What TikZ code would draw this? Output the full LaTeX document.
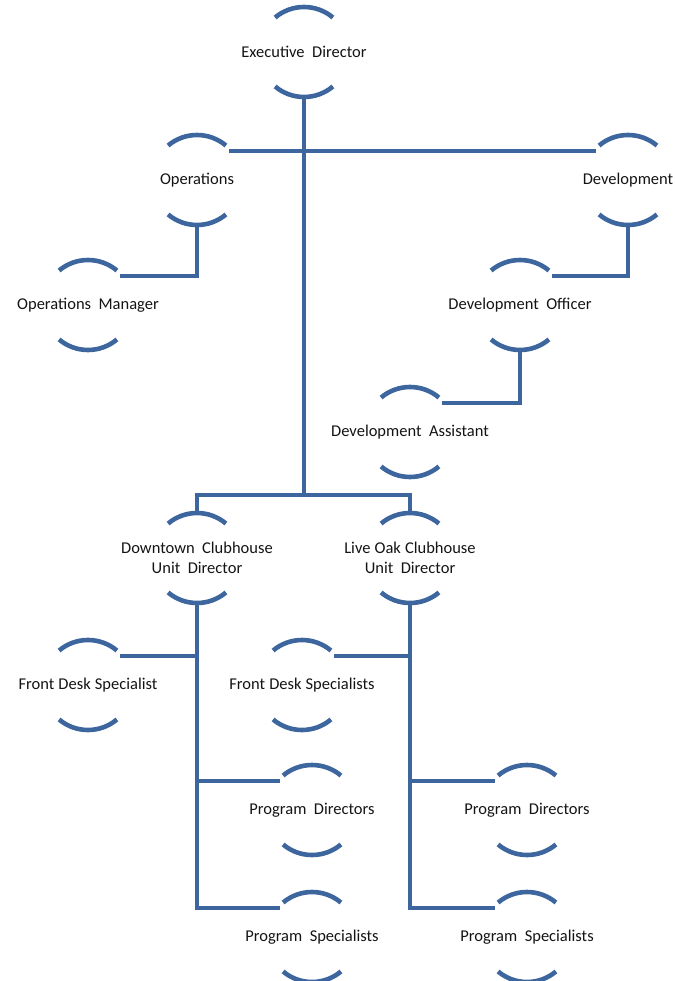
\documentclass[tikz,border=0pt]{standalone}
\usepackage{fontspec}
\setmainfont{Carlito}[WordSpace=2]
\newfontfamily\tightfont{Carlito}[WordSpace=1.1]
\definecolor{orgblue}{RGB}{62,102,158}
\definecolor{txt}{RGB}{20,20,20}
\tikzset{
  x=1pt, y=1pt,
  ring/.style={circle, minimum size=90pt, inner sep=0pt, outer sep=0pt, draw=none},
  lbl/.style={text=txt, font=\fontsize{16.5}{20}\selectfont, align=center, inner sep=0pt},
  arcline/.style={draw=orgblue, line width=4.6pt},
  link/.style={draw=orgblue, line width=4.8pt, line cap=rect}
}
\newcommand\orgunit[3]{%
  \node[ring] (#1) at (#2) {};
  \node[lbl] (#1-t) at (#1) {#3};
  \draw[arcline] (#1.130) arc[start angle=130,end angle=50,radius=45pt];
  \draw[arcline] (#1.230) arc[start angle=230,end angle=310,radius=45pt];
}
\begin{document}
\begin{tikzpicture}
\useasboundingbox (0,0) rectangle (674,-981);
\orgunit{ed}{304,-52}{Executive Director}
\orgunit{ops}{197,-180}{Operations}
\orgunit{dev}{628,-180}{Development}
\orgunit{opm}{88,-305}{Operations Manager}
\orgunit{devo}{520,-305}{Development Officer}
\orgunit{deva}{410,-432}{Development Assistant}
\orgunit{dtd}{197,-558}{Downtown Clubhouse\\Unit Director}
\orgunit{lod}{410,-558}{{\tightfont Live Oak Clubhouse}\\Unit Director}
\orgunit{fdsa}{88,-685}{{\tightfont Front Desk Specialist}}
\orgunit{fdsb}{302,-685}{{\tightfont Front Desk Specialists}}
\orgunit{pda}{312,-810}{Program Directors}
\orgunit{pdb}{527,-810}{Program Directors}
\orgunit{psa}{312,-937}{Program Specialists}
\orgunit{psb}{527,-937}{Program Specialists}
\coordinate (cb) at (304,-495);
% connectors
\draw[link] (ed.south) -- (cb);
\draw[link] (ops.40) -- (dev.140);
\draw[link] (dtd.north) |- (cb) -| (lod.north);
\draw[link] (ops.south) |- (opm.40);
\draw[link] (dev.south) |- (devo.40);
\draw[link] (devo.south) |- (deva.40);
\draw[link] (dtd.south) |- (psa.140);
\draw[link] (dtd.south |- fdsa.40) -- (fdsa.40);
\draw[link] (dtd.south |- pda.140) -- (pda.140);
\draw[link] (lod.south) |- (psb.140);
\draw[link] (lod.south |- fdsb.40) -- (fdsb.40);
\draw[link] (lod.south |- pdb.140) -- (pdb.140);
\end{tikzpicture}
\end{document}
